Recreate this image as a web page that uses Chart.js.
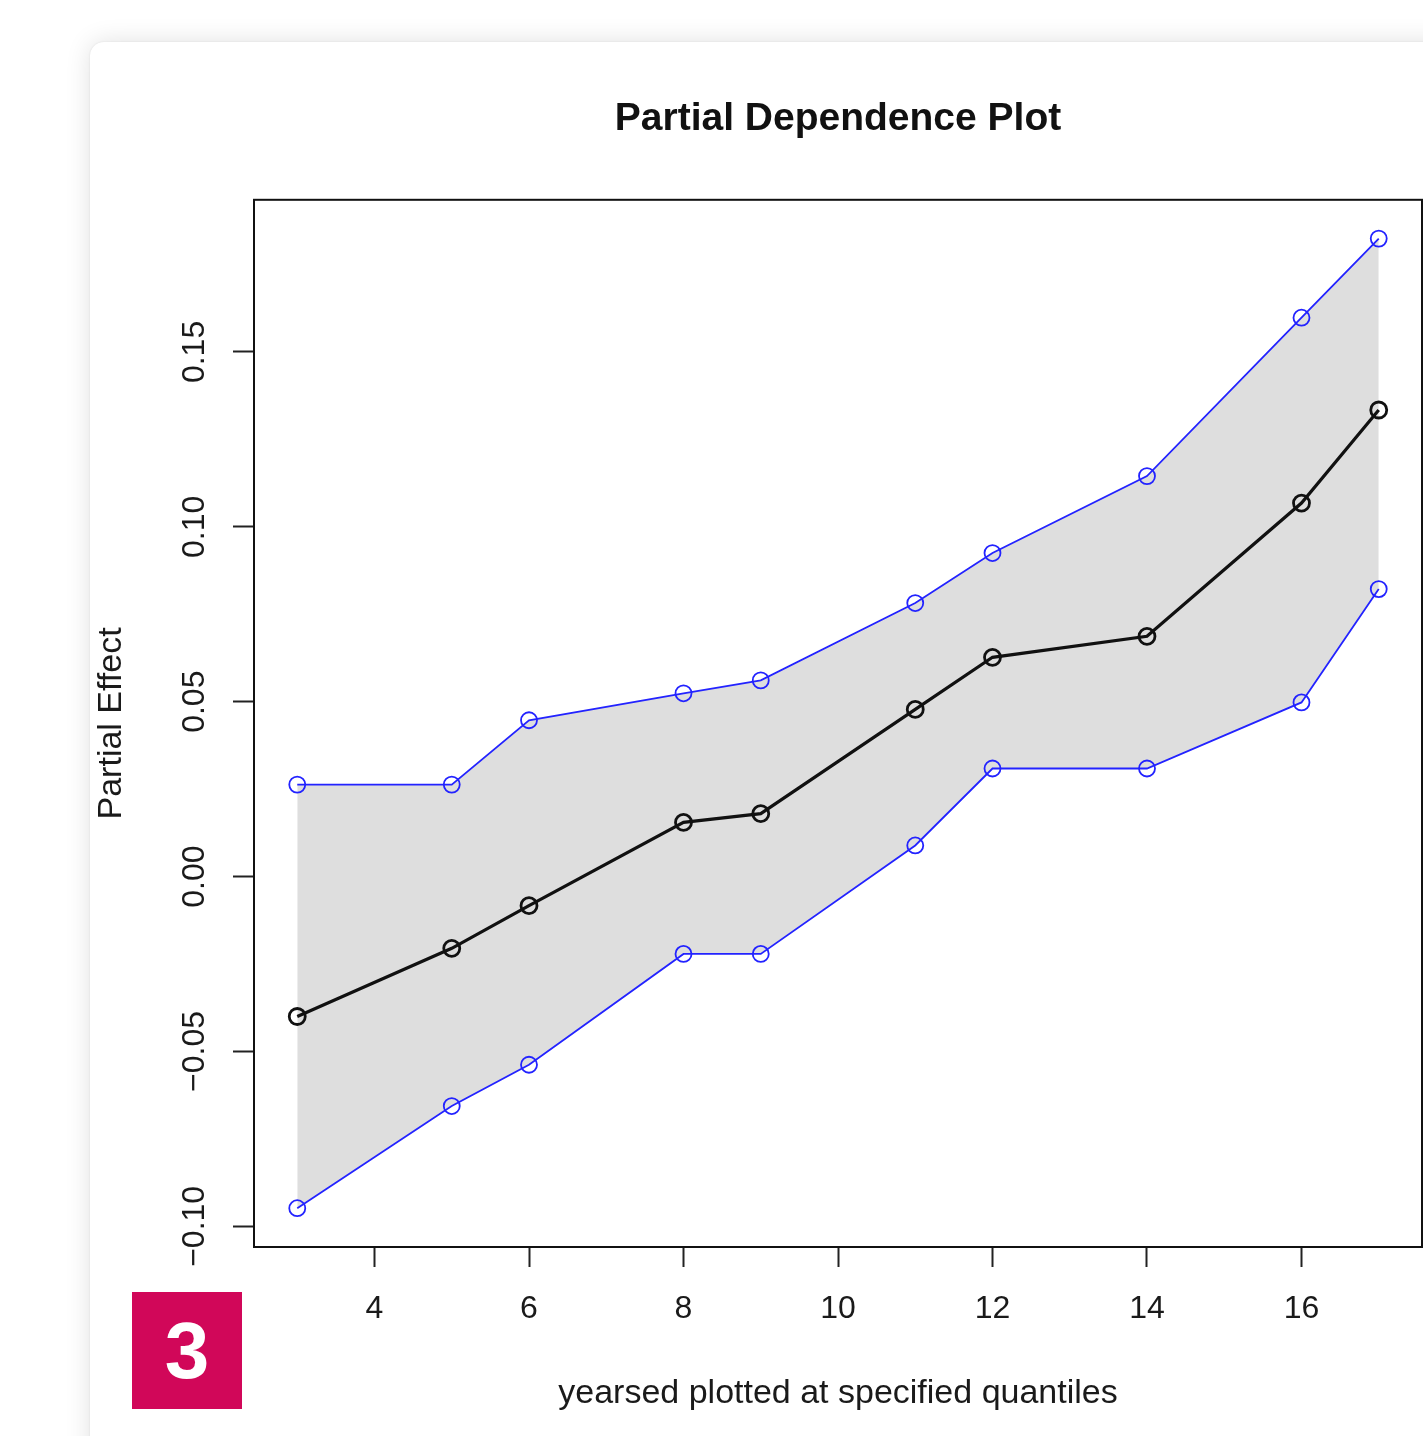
<!DOCTYPE html>
<html>
<head>
<meta charset="utf-8">
<title>Partial Dependence Plot</title>
<script src="https://cdn.jsdelivr.net/npm/chart.js@4"></script>
<style>
  html, body { margin: 0; padding: 0; background: #fff; overflow: hidden; }
  #card {
    position: absolute; left: 90px; top: 42px; width: 1400px; height: 1450px;
    background: #fff; border-radius: 14px;
    box-shadow: 0 0 2px rgba(0,0,0,0.10), 0 0 26px rgba(0,0,0,0.12);
  }
  #wrap { position: absolute; left: 0; top: 0; width: 1423px; height: 1436px; }
  #badge {
    position: absolute; left: 132px; top: 1292px; width: 110px; height: 117px;
    background: #d10759; color: #fff;
    font: bold 80px "Liberation Sans", Arial, sans-serif;
    display: flex; align-items: center; justify-content: center;
  }
</style>
</head>
<body>
<div id="card"></div>
<div id="wrap"><canvas id="pdp"></canvas></div>
<div id="badge">3</div>
<script>
// quantile positions of yearsed
const xValues = [3, 5, 6, 8, 9, 11, 12, 14, 16, 17];
// partial effect and its band
const effect = [-0.040, -0.0205, -0.0083, 0.0155, 0.018, 0.0478, 0.0627, 0.0687, 0.1068, 0.1334];
const upper  = [0.0263, 0.0263, 0.0447, 0.0524, 0.0561, 0.0782, 0.0925, 0.1145, 0.1598, 0.1824];
const lower  = [-0.0948, -0.0656, -0.0538, -0.0221, -0.0221, 0.0089, 0.0309, 0.0309, 0.0498, 0.0822];

const xTicks = [4, 6, 8, 10, 12, 14, 16];
const yTicks = [-0.10, -0.05, 0.00, 0.05, 0.10, 0.15];

const FONT = '"Liberation Sans", Arial, Helvetica, sans-serif';
const BLUE = "rgb(35,35,255)";

const toPoints = ys => xValues.map((x, i) => ({ x, y: ys[i] }));

// R-style box around the plot region
const boxPlugin = {
    id: "box",
    afterDraw(chart) {
        const { ctx, chartArea: a } = chart;
        ctx.save();
        ctx.strokeStyle = "#111";
        ctx.lineWidth = 2;
        ctx.strokeRect(a.left, a.top, a.right - a.left, a.bottom - a.top);
        ctx.restore();
    }
};

const canvas = document.getElementById("pdp");
canvas.width = 1423;
canvas.height = 1436;

new Chart(canvas.getContext("2d"), {
    type: "line",
    data: {
        datasets: [
            {
                label: "effect",
                data: toPoints(effect),
                borderColor: "#111",
                borderWidth: 3.2,
                pointRadius: 8,
                pointBorderWidth: 2.8,
                pointBorderColor: "#111",
                pointBackgroundColor: "rgba(0,0,0,0)",
                fill: false
            },
            {
                label: "upper",
                data: toPoints(upper),
                borderColor: BLUE,
                borderWidth: 1.8,
                pointRadius: 8,
                pointBorderWidth: 1.8,
                pointBorderColor: BLUE,
                pointBackgroundColor: "rgba(0,0,0,0)",
                backgroundColor: "#dedede",
                fill: 2
            },
            {
                label: "lower",
                data: toPoints(lower),
                borderColor: BLUE,
                borderWidth: 1.8,
                pointRadius: 8,
                pointBorderWidth: 1.8,
                pointBorderColor: BLUE,
                pointBackgroundColor: "rgba(0,0,0,0)",
                fill: false
            }
        ]
    },
    options: {
        responsive: false,
        animation: false,
        events: [],
        layout: { autoPadding: false, padding: { left: 80, right: 1, top: 0, bottom: 0 } },
        plugins: {
            legend: { display: false },
            tooltip: { enabled: false },
            filler: { drawTime: "beforeDatasetsDraw" },
            title: {
                display: true,
                fullSize: false,
                text: "Partial Dependence Plot",
                color: "#111",
                font: { family: FONT, size: 39, weight: "bold", lineHeight: 1.2 },
                padding: { top: 96, bottom: 57 }
            }
        },
        scales: {
            x: {
                type: "linear",
                min: 2.44,
                max: 17.56,
                afterBuildTicks: s => { s.ticks = xTicks.map(value => ({ value })); },
                afterFit: s => { s.height = 189; s.paddingLeft = 0; s.paddingRight = 0; },
                border: { display: false },
                grid: {
                    drawOnChartArea: false,
                    drawTicks: true,
                    tickLength: 20,
                    tickWidth: 2,
                    tickColor: "#222"
                },
                ticks: {
                    autoSkip: false,
                    maxRotation: 0,
                    padding: 23,
                    color: "#1a1a1a",
                    font: { family: FONT, size: 32 },
                    callback: v => String(v)
                },
                title: {
                    display: true,
                    text: "yearsed plotted at specified quantiles",
                    color: "#1a1a1a",
                    font: { family: FONT, size: 34, lineHeight: 1.2 },
                    padding: { top: 0, bottom: 22 }
                }
            },
            y: {
                type: "linear",
                min: -0.1059,
                max: 0.1935,
                afterBuildTicks: s => { s.ticks = yTicks.map(value => ({ value })); },
                afterFit: s => { s.width = 174; s.paddingTop = 0; s.paddingBottom = 0; },
                border: { display: false },
                grid: {
                    drawOnChartArea: false,
                    drawTicks: true,
                    tickLength: 21,
                    tickWidth: 2,
                    tickColor: "#222"
                },
                ticks: {
                    autoSkip: false,
                    minRotation: 90,
                    maxRotation: 90,
                    crossAlign: "center",
                    padding: -3,
                    color: "#1a1a1a",
                    font: { family: FONT, size: 32 },
                    callback: v => (v < 0 ? "\u2212" + Math.abs(v).toFixed(2) : v.toFixed(2))
                },
                title: {
                    display: true,
                    text: "Partial Effect",
                    color: "#1a1a1a",
                    font: { family: FONT, size: 34, lineHeight: 1.2 },
                    padding: { top: 11, bottom: 0 }
                }
            }
        }
    },
    plugins: [boxPlugin]
});
</script>
</body>
</html>
